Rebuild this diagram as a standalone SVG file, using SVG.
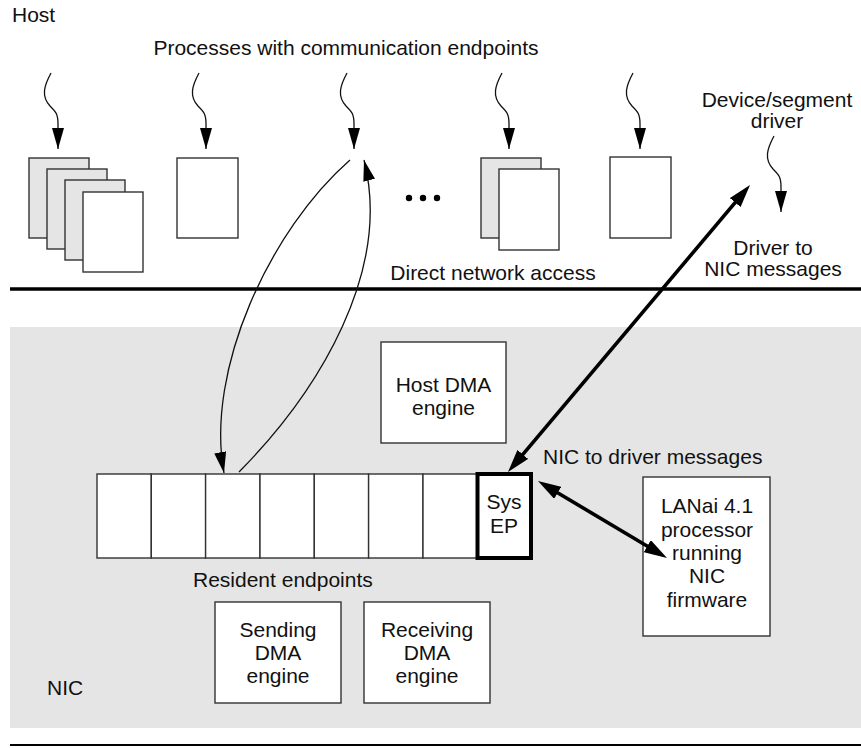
<svg xmlns="http://www.w3.org/2000/svg" width="861" height="748" viewBox="0 0 861 748">
<style>
text{font-family:"Liberation Sans",Arial,sans-serif;font-size:21px;fill:#111}
.c{text-anchor:middle}
.box{fill:#fff;stroke:#333;stroke-width:1.4}
.sheet{fill:#e5e5e5;stroke:#333;stroke-width:1.4}
.thin{fill:none;stroke:#111;stroke-width:1.3}
.thick{fill:none;stroke:#000;stroke-width:3.6}
</style>
<defs>
<marker id="ah" markerUnits="userSpaceOnUse" markerWidth="22" markerHeight="12" refX="21" refY="6" orient="auto">
<path d="M0,0 L21,6 L0,12 z" fill="#000"/>
</marker>
<marker id="ahT" markerUnits="userSpaceOnUse" markerWidth="24" markerHeight="14" refX="9" refY="7" orient="auto-start-reverse">
<path d="M0,0 L23,7 L0,14 z" fill="#000"/>
</marker>
<path id="sq" d="M0,0 C-7,13 -10,23 -1,33 C5,39 7,41 7,51 L7,76"/>
</defs>

<rect id="nic-area" x="10" y="327" width="851" height="401" fill="#e5e5e5"/>
<line x1="10" y1="289" x2="861" y2="289" stroke="#000" stroke-width="3.6"/>
<line x1="10" y1="745" x2="861" y2="745" stroke="#000" stroke-width="2"/>

<text x="12" y="22">Host</text>
<text class="c" x="346" y="55">Processes with communication endpoints</text>
<text class="c" x="493" y="280">Direct network access</text>
<text x="47" y="695">NIC</text>

<g id="proc1">
<rect class="sheet" x="29" y="158" width="60" height="80"/>
<rect class="sheet" x="47" y="169" width="60" height="80"/>
<rect class="sheet" x="65" y="180" width="60" height="80"/>
<rect class="box" x="83" y="192" width="60" height="80"/>
</g>
<g id="proc2"><rect class="box" x="177" y="158" width="61" height="80"/></g>
<g id="ellipsis">
<circle cx="409" cy="198" r="3.2" fill="#000"/>
<circle cx="423" cy="198" r="3.2" fill="#000"/>
<circle cx="437" cy="198" r="3.2" fill="#000"/>
</g>
<g id="proc4">
<rect class="sheet" x="481" y="158" width="60" height="80"/>
<rect class="box" x="499" y="169" width="60" height="81"/>
</g>
<g id="proc5"><rect class="box" x="610" y="157" width="61" height="81"/></g>

<g id="driver-label">
<text class="c" x="777" y="107">Device/segment</text>
<text class="c" x="777" y="128">driver</text>
</g>
<g id="driver-msg-label">
<text class="c" x="773" y="255">Driver to</text>
<text class="c" x="773" y="276">NIC messages</text>
</g>

<g id="host-dma">
<rect class="box" x="381" y="342" width="125" height="101"/>
<text class="c" x="443.5" y="392">Host DMA</text>
<text class="c" x="443.5" y="415">engine</text>
</g>

<g id="resident-endpoints">
<rect class="box" x="97" y="474" width="54.3" height="84"/>
<rect class="box" x="151.3" y="474" width="54.3" height="84"/>
<rect class="box" x="205.6" y="474" width="54.4" height="84"/>
<rect class="box" x="260" y="474" width="54.3" height="84"/>
<rect class="box" x="314.3" y="474" width="54.3" height="84"/>
<rect class="box" x="368.6" y="474" width="54.4" height="84"/>
<rect class="box" x="423" y="474" width="54.5" height="84"/>
<text x="193" y="587">Resident endpoints</text>
</g>
<g id="sys-ep">
<rect x="477.5" y="474" width="53.5" height="84" fill="#fff" stroke="#000" stroke-width="4"/>
<text class="c" x="504" y="509">Sys</text>
<text class="c" x="504" y="533">EP</text>
</g>
<text x="543" y="464">NIC to driver messages</text>

<g id="lanai">
<rect class="box" x="643" y="477" width="127" height="159"/>
<text class="c" x="707" y="513">LANai 4.1</text>
<text class="c" x="707" y="537">processor</text>
<text class="c" x="707" y="560">running</text>
<text class="c" x="707" y="583">NIC</text>
<text class="c" x="707" y="607">firmware</text>
</g>

<g id="sending-dma">
<rect class="box" x="215" y="602" width="126" height="101"/>
<text class="c" x="278" y="637">Sending</text>
<text class="c" x="278" y="660">DMA</text>
<text class="c" x="278" y="683">engine</text>
</g>
<g id="receiving-dma">
<rect class="box" x="364" y="602" width="126" height="101"/>
<text class="c" x="427" y="637">Receiving</text>
<text class="c" x="427" y="660">DMA</text>
<text class="c" x="427" y="683">engine</text>
</g>

<g id="connectors">
<use href="#sq" class="thin" transform="translate(51,73)" marker-end="url(#ah)"/>
<use href="#sq" class="thin" transform="translate(199,73)" marker-end="url(#ah)"/>
<use href="#sq" class="thin" transform="translate(347,73)" marker-end="url(#ah)"/>
<use href="#sq" class="thin" transform="translate(502,73)" marker-end="url(#ah)"/>
<use href="#sq" class="thin" transform="translate(633,73)" marker-end="url(#ah)"/>
<use href="#sq" class="thin" transform="translate(774,136)" marker-end="url(#ah)"/>
<path class="thin" d="M350,160 C270,230 205,370 224,473" marker-end="url(#ah)"/>
<path class="thin" d="M239,472 C320,390 392,270 364,160" marker-end="url(#ah)"/>
<line class="thick" x1="517" y1="461.3" x2="741" y2="195.7" marker-start="url(#ahT)" marker-end="url(#ahT)"/>
<line class="thick" x1="550" y1="488.2" x2="655" y2="550.8" marker-start="url(#ahT)" marker-end="url(#ahT)"/>
</g>
</svg>
